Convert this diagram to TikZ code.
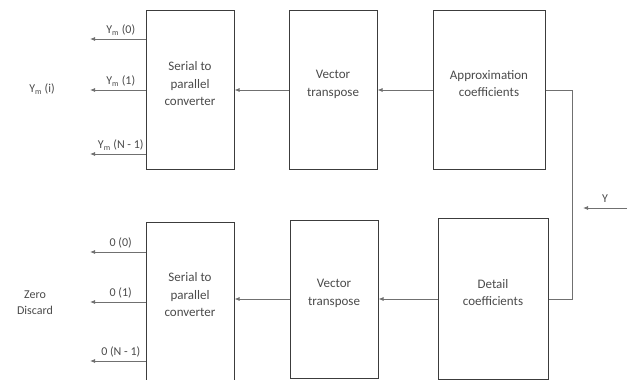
\documentclass[tikz,border=0pt]{standalone}
\usepackage{fontspec}
\setmainfont{Carlito}
\usetikzlibrary{arrows.meta,positioning}
\definecolor{edgegray}{HTML}{3C3C3C}
\definecolor{wiregray}{HTML}{707070}
\definecolor{ink}{HTML}{4A4A4A}

\begin{document}
\begin{tikzpicture}[x=1pt,y=-1pt,node distance=55pt,>={Latex[length=5pt,width=4pt]}]
\tikzset{blk/.style={draw=edgegray,line width=1pt,minimum width=88pt,minimum height=159pt,inner sep=0pt,text depth=13pt,align=center,text=ink,font=\fontsize{13}{17.5}\selectfont},
  lbl/.style={text=ink,font=\fontsize{12}{16}\selectfont},
  wire/.style={draw=wiregray,line width=0.8pt}}
\useasboundingbox (0,0) rectangle (638,380);
% upper branch
\node[blk] (ser1) at (190,90) {Serial to\\parallel\\converter};
\node[blk,right=54pt of ser1] (vec1) {Vector\\transpose};
\node[blk,right=of vec1,minimum width=112pt] (appr) {Approximation\\coefficients};
% lower branch
\node[blk,minimum height=158pt] (vec2) at (334,299) {Vector\\transpose};
\node[blk,right=59pt of vec2,minimum width=110pt,minimum height=161pt] (det) {Detail\\coefficients};
\node[blk,minimum height=172pt,text depth=27pt] (ser2) at (190,308) {Serial to\\parallel\\converter};
% input and split
\coordinate (yin) at (627,208);
\coordinate (ytip) at (583,208);
\coordinate (jn) at (572,0);
\draw[wire,->] (yin) -- node[lbl,above=2pt] {Y} (ytip);
\draw[wire] (appr.east) -| (jn |- det.east) -- (det.east);
\draw[wire,->] (appr) -- (vec1);
\draw[wire,->] (vec1) -- (ser1);
\draw[wire,->] (det.west) -- (det.west -| vec2.east);
\draw[wire,->] (vec2.west) -- (vec2.west -| ser2.east);
% parallel outputs
\foreach \y/\t [count=\i] in {39/{Y\textsubscript{m} (0)},90/{Y\textsubscript{m} (1)},154/{Y\textsubscript{m} (N - 1)}}{
  \coordinate (yo\i) at (90,\y);
  \draw[wire,->] (ser1.west |- yo\i) -- node[lbl,above=0pt,xshift=3pt] {\t} (yo\i);
}
\foreach \y/\t [count=\i] in {252/{0 (0)},302/{0 (1)},361/{0 (N - 1)}}{
  \coordinate (zo\i) at (90,\y);
  \draw[wire,->] (ser2.west |- zo\i) -- node[lbl,above=0pt,xshift=3pt] {\t} (zo\i);
}
\node[lbl] (ym) at (42,89) {Y\textsubscript{m} (i)};
\node[lbl,align=center] (zd) at (35,303) {Zero\\Discard};
\end{tikzpicture}
\end{document}
